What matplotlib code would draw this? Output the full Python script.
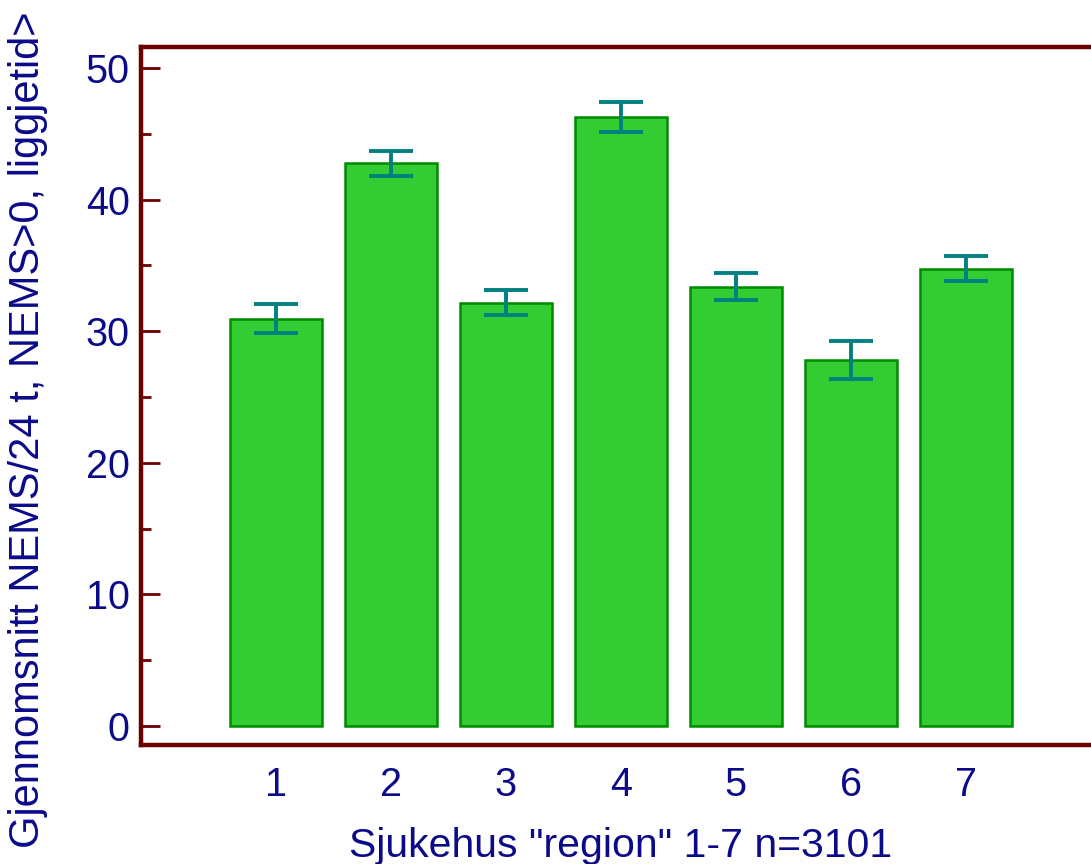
import numpy as np
import matplotlib
matplotlib.use("Agg")
import matplotlib.pyplot as plt
from matplotlib.ticker import MultipleLocator

# Mean NEMS per 24 h by hospital region, with error bars
regions = [1, 2, 3, 4, 5, 6, 7]
means = [30.95, 42.75, 32.15, 46.3, 33.4, 27.8, 34.75]
errors = [1.1, 0.95, 0.95, 1.15, 1.0, 1.45, 0.95]

plt.rcParams.update({
    "font.family": ["Liberation Sans", "DejaVu Sans"],
})

navy = "#0B0B8A"
frame = "#6B0000"

fig = plt.figure(figsize=(10.91, 8.64), dpi=100)
ax = fig.add_axes([0.1292, 0.1377, 0.8795, 0.8079])

ax.bar(regions, means, width=0.8, color="#33CC33", edgecolor="#008A00",
       linewidth=1.8, zorder=2)
ax.errorbar(regions, means, yerr=errors, fmt="none", ecolor="#008080",
            elinewidth=2.8, capsize=15.8, capthick=2.8, zorder=3)

ax.set_xlim(-0.17, 8.17)
ax.set_ylim(-1.44, 51.6)

ax.yaxis.set_major_locator(MultipleLocator(10))
ax.yaxis.set_minor_locator(MultipleLocator(5))
ax.set_xticks(regions)
ax.tick_params(axis="y", which="major", direction="in", length=14, width=2,
               color=frame, labelcolor=navy, labelsize=28.5, pad=8)
ax.tick_params(axis="y", which="minor", direction="in", length=7, width=2,
               color=frame)
ax.tick_params(axis="x", which="both", length=0, labelcolor=navy,
               labelsize=28.5, pad=15)

for side in ["left", "top", "bottom", "right"]:
    ax.spines[side].set_color(frame)
    ax.spines[side].set_linewidth(3.2)

ax.set_xlabel('Sjukehus "region" 1-7 n=3101', color=navy, fontsize=29.5,
              labelpad=17)
fig.text(28 / 1091, 16 / 864, "Gjennomsnitt NEMS/24 t, NEMS>0, liggjetid>",
         rotation=90, ha="center", va="bottom", color=navy, fontsize=30)

fig.savefig("out.png", dpi=100)
